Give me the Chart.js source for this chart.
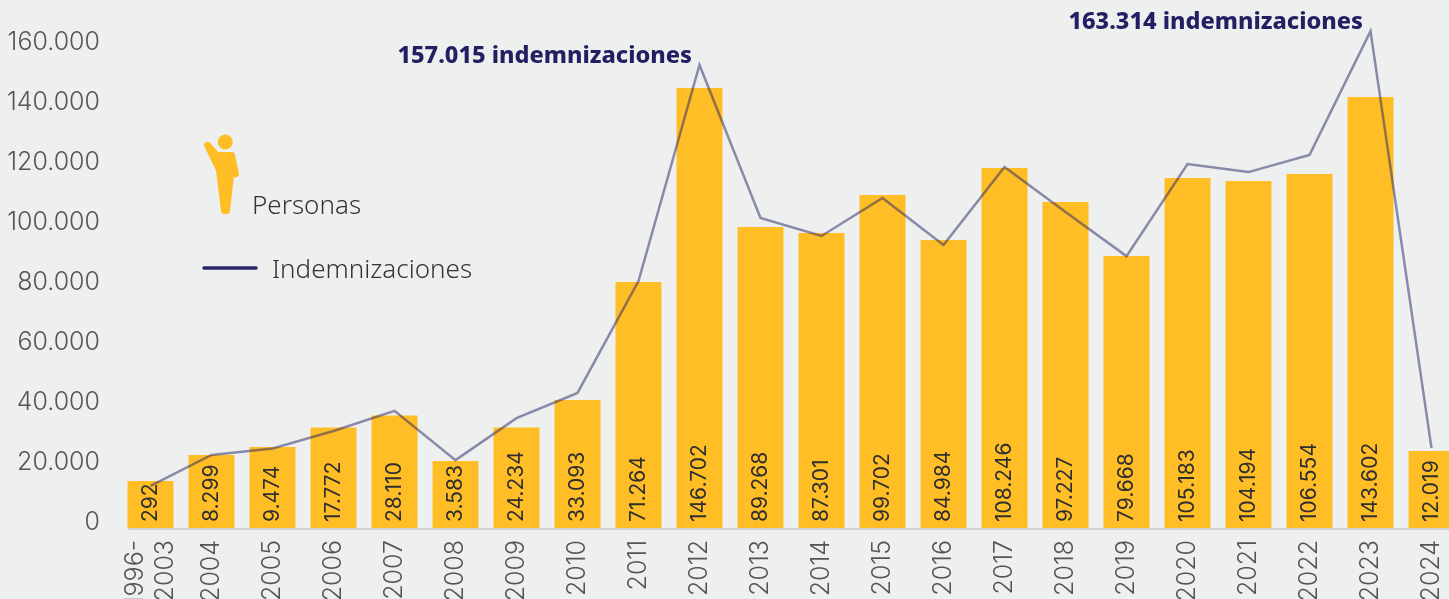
<!DOCTYPE html>
<html lang="es">
<head>
<meta charset="utf-8">
<title>Personas e indemnizaciones</title>
<script src="https://cdn.jsdelivr.net/npm/chart.js@4"></script>
<style>
html,body{margin:0;padding:0;width:1449px;height:599px;overflow:hidden;background:#eef0ef}
#wrap{position:relative;width:1449px;height:599px;overflow:hidden}
canvas{position:absolute;left:0;top:0}
.lg{position:absolute;font:300 26px "Noto Sans",sans-serif;color:#333;white-space:nowrap;line-height:30px}
svg{position:absolute;left:0;top:0}
</style>
</head>
<body>
<div id="wrap">
<canvas id="c" width="1480" height="599"></canvas>
<svg width="300" height="300" aria-hidden="true">
  <circle cx="225.3" cy="142" r="7.5" fill="#ffbe26"/>
  <path d="M207 145 L208 145 L217 155 L232 155 L236 174 L231 175 L227 211 L224 211 L219 170 Z" fill="#ffbe26" stroke="#ffbe26" stroke-width="6" stroke-linejoin="round"/>
  <line x1="204" y1="268" x2="256" y2="268" stroke="#2a2468" stroke-width="3.5" stroke-linecap="round"/>
</svg>
<div class="lg" style="left:252px;top:189px">Personas</div>
<div class="lg" style="left:272px;top:253px">Indemnizaciones</div>
</div>
<script>
const categories = [["1996-","2003"],"2004","2005","2006","2007","2008","2009","2010","2011","2012","2013","2014","2015","2016","2017","2018","2019","2020","2021","2022","2023","2024"];
const personasBars = [15700,24300,27000,33500,37500,22300,33500,42700,82000,146700,100300,98300,111000,96000,120000,108700,90700,116700,115700,118000,143700,25700];
const personasLabels = ["292","8.299","9.474","17.772","28.110","3.583","24.234","33.093","71.264","146.702","89.268","87.301","99.702","84.984","108.246","97.227","79.668","105.183","104.194","106.554","143.602","12.019"];
const indemnizaciones = [11700,22000,24200,30000,36700,20300,34300,42700,80000,152000,101000,95000,107700,92000,118000,103000,88300,119000,116300,122000,163300,24300];
const yTicks = [0,20000,40000,60000,80000,100000,120000,140000,160000];
const annotations = [{index:9,text:"157.015 indemnizaciones"},{index:20,text:"163.314 indemnizaciones"}];

const fmt = v => String(v).replace(/\B(?=(\d{3})+(?!\d))/g,".");
const tickFont = {family:"Inter, sans-serif",size:25,weight:"300",lineHeight:1.2};
const tickColor = "#555";

const overlay = {
  id:"overlay",
  afterDatasetDraw(chart,args){
    if(args.index!==0) return;
    const ctx=chart.ctx, meta=chart.getDatasetMeta(0);
    ctx.save();
    ctx.font='400 21px Inter, sans-serif';
    ctx.fillStyle='#2f2f2f';
    ctx.textAlign='left';
    ctx.textBaseline='middle';
    meta.data.forEach((b,i)=>{
      ctx.save();
      ctx.translate(b.x,b.base-6);
      ctx.rotate(-Math.PI/2);
      ctx.fillText(personasLabels[i],0,0);
      ctx.restore();
    });
    ctx.restore();
  },
  afterDatasetsDraw(chart){
    const ctx=chart.ctx, meta=chart.getDatasetMeta(0), line=chart.getDatasetMeta(1);
    const first=meta.data[0];
    ctx.save();
    ctx.strokeStyle='#d3d3d3';
    ctx.lineWidth=2;
    ctx.beginPath();
    ctx.moveTo(first.x-first.width/2,first.base+1);
    ctx.lineTo(chart.width,first.base+1);
    ctx.stroke();
    ctx.font='800 23.5px "Noto Sans", sans-serif';
    ctx.fillStyle='#231f63';
    ctx.textAlign='right';
    ctx.textBaseline='middle';
    annotations.forEach(a=>{
      const p=line.data[a.index];
      ctx.fillText(a.text,p.x-7.5,p.y-9);
    });
    // two-line first category label, centred on its bar
    const x=chart.scales.x;
    ctx.font=`${tickFont.weight} ${tickFont.size}px ${tickFont.family}`;
    ctx.fillStyle=tickColor;
    ctx.textAlign='right';
    categories[0].forEach((t,i)=>{
      ctx.save();
      ctx.translate(x.getPixelForTick(0)+(i-0.5)*30,x.top+12);
      ctx.rotate(-Math.PI/2);
      ctx.fillText(t,0,0);
      ctx.restore();
    });
    ctx.restore();
  }
};

new Chart(document.getElementById("c"),{
  data:{
    labels:categories,
    datasets:[
      {type:"bar",label:"Personas",data:personasBars,yAxisID:"yBars",backgroundColor:"#ffbe26",barPercentage:0.754,categoryPercentage:1,order:2},
      {type:"line",label:"Indemnizaciones",data:indemnizaciones,yAxisID:"y",borderColor:"rgba(38,34,100,0.5)",borderWidth:2.5,pointRadius:0,tension:0,fill:false,order:1}
    ]
  },
  options:{
    responsive:false,
    animation:false,
    devicePixelRatio:1,
    layout:{padding:{left:0,right:18,top:0,bottom:0}},
    plugins:{legend:{display:false},tooltip:{enabled:false},title:{display:false}},
    scales:{
      x:{
        grid:{display:false,drawTicks:false},
        border:{display:false},
        afterFit(s){s.height=71;s.paddingLeft=0;s.paddingRight=0;s.paddingTop=0;s.paddingBottom=0;},
        ticks:{autoSkip:false,minRotation:90,maxRotation:90,padding:12,color:tickColor,font:tickFont,
          callback(v,i){return Array.isArray(categories[i])?"":categories[i];}}
      },
      y:{
        min:-2333,max:173667,
        grid:{display:false,drawTicks:false},
        border:{display:false},
        afterBuildTicks(s){s.ticks=yTicks.map(v=>({value:v}));},
        afterFit(s){s.width=120;s.paddingTop=0;s.paddingBottom=0;},
        ticks:{padding:20,labelOffset:1.5,color:tickColor,callback:v=>fmt(v),font:tickFont}
      },
      yBars:{display:false,min:0,max:176000}
    }
  },
  plugins:[overlay]
});
</script>
</body>
</html>
